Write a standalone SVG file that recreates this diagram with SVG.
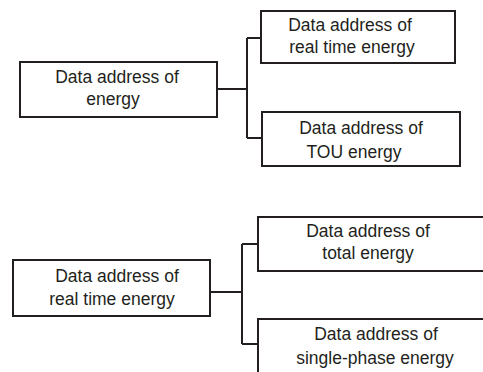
<svg xmlns="http://www.w3.org/2000/svg" width="483" height="372" viewBox="0 0 483 372">
<style>
.box{fill:#fff;stroke:#231f20;stroke-width:2}
.c{fill:none;stroke:#231f20;stroke-width:2}
text{font-family:"Liberation Sans",Arial,sans-serif;font-size:17.5px;fill:#231f20;text-anchor:middle}
</style>
<rect width="483" height="372" fill="#fff"/>
<g id="connectors">
<path class="c" d="M217 89H247M247 38V138M247 38H261M247 138H262"/>
<path class="c" d="M210 292H242M242 244V344M242 244H258M242 344H258"/>
</g>
<g id="n1"><rect class="box" x="20" y="62" width="197" height="55"/><text x="117" y="83">Data address of</text><text x="113" y="105">energy</text></g>
<g id="n2"><rect class="box" x="261" y="11" width="194" height="52"/><text x="350" y="31">Data address of</text><text x="352" y="53">real time energy</text></g>
<g id="n3"><rect class="box" x="262" y="112" width="198" height="54"/><text x="361" y="134">Data address of</text><text x="354" y="158">TOU energy</text></g>
<g id="n4"><rect class="box" x="13" y="260" width="197" height="56"/><text x="117" y="282">Data address of</text><text x="112" y="305">real time energy</text></g>
<g id="n5"><rect class="box" x="258" y="217" width="235" height="54"/><text x="368" y="237">Data address of</text><text x="368" y="259">total energy</text></g>
<g id="n6"><rect class="box" x="258" y="319" width="235" height="70"/><text x="376" y="340">Data address of</text><text x="375" y="364">single-phase energy</text></g>
</svg>
